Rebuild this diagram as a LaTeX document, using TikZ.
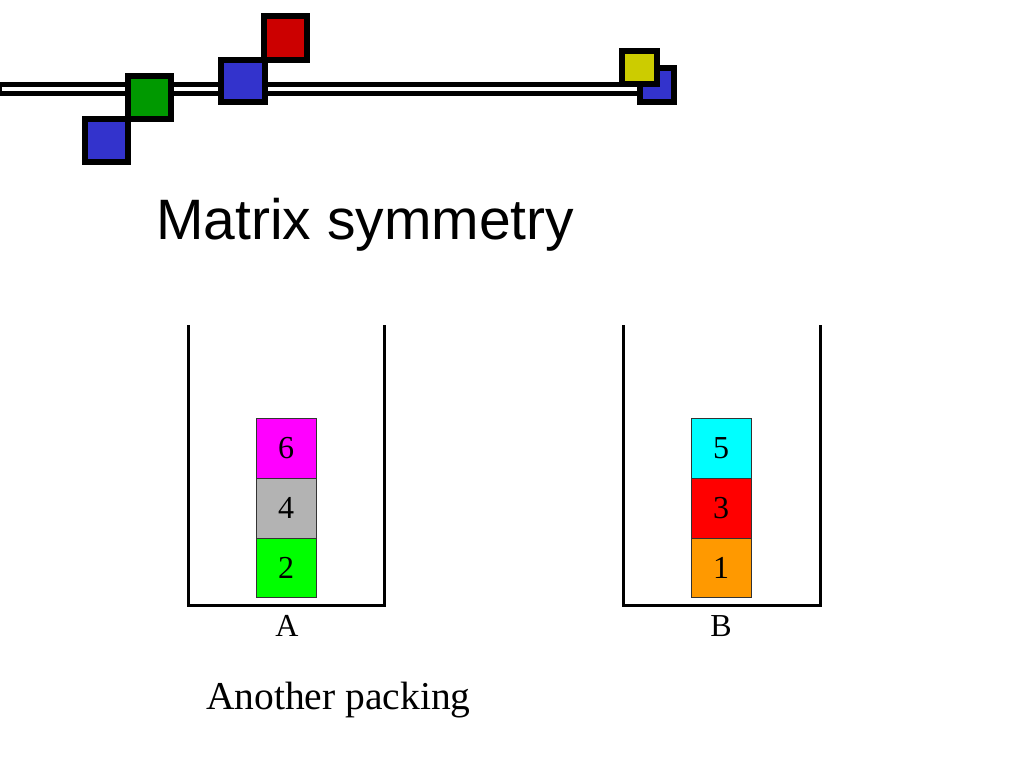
\documentclass[tikz,border=0pt]{standalone}
\usepackage{fontspec}
\setmainfont{Liberation Serif}
\newfontfamily\titlefont{Liberation Sans}
\definecolor{dblue}{HTML}{3333CC}
\definecolor{dgreen}{HTML}{009900}
\definecolor{dred}{HTML}{CC0000}
\definecolor{dyellow}{HTML}{CCCC00}
\definecolor{pmag}{HTML}{FF00FF}
\definecolor{pgray}{HTML}{B3B3B3}
\definecolor{pgreen}{HTML}{00FF00}
\definecolor{pcyan}{HTML}{00FFFF}
\definecolor{pred}{HTML}{FF0000}
\definecolor{porange}{HTML}{FF9900}
\tikzset{
  decosq/.style={draw=black, line width=6pt},
  pbox/.style={draw=black!80, line width=0.8pt, minimum width=60pt, minimum height=60pt, inner sep=0pt, font=\fontsize{32}{36}\selectfont},
  wall/.style={draw=black, line width=3pt},
  lab/.style={font=\fontsize{32}{36}\selectfont, inner sep=0pt}
}
\begin{document}
\begin{tikzpicture}[x=1pt, y=-1pt]
\useasboundingbox (0,0) rectangle (1024,768);
\fill[white] (0,0) rectangle (1024,768);
% double line
\draw[black, line width=14pt] (0,89) -- (640,89);
\draw[white, line width=3.5pt] (2,89) -- (637,89);
% squares
\draw[decosq, fill=dblue] (85,119) rectangle (128,162);
\draw[decosq, fill=dgreen] (128,76) rectangle (171,119);
\draw[decosq, fill=dred] (264,16) rectangle (307,60);
\draw[decosq, fill=dblue] (221,60) rectangle (265,102);
\draw[decosq, fill=dblue] (640,68) rectangle (674,102);
\draw[decosq, fill=dyellow] (622,51) rectangle (657,84);
% title
\node[anchor=base west, inner sep=0pt, font=\titlefont\fontsize{57}{62}\selectfont] (title) at (156,239) {Matrix symmetry};
% container A
\draw[wall] (188,325) -- (188,605) -- (384,605) -- (384,325);
\node[pbox, fill=pgreen] (a2) at (286,567.5) {2};
\node[pbox, fill=pgray] (a4) at (286,508) {4};
\node[pbox, fill=pmag] (a6) at (286,448) {6};
\node[lab, anchor=base] (labA) at (287,636) {A};
% container B
\draw[wall] (623,325) -- (623,605) -- (820,605) -- (820,325);
\node[pbox, fill=porange] (b1) at (721,567.5) {1};
\node[pbox, fill=pred] (b3) at (721,508) {3};
\node[pbox, fill=pcyan] (b5) at (721,448) {5};
\node[lab, anchor=base] (labB) at (721,636) {B};
% caption
\node[anchor=base west, inner sep=0pt, font=\fontsize{39.5}{44}\selectfont] (cap) at (206,709) {Another packing};
\end{tikzpicture}
\end{document}
